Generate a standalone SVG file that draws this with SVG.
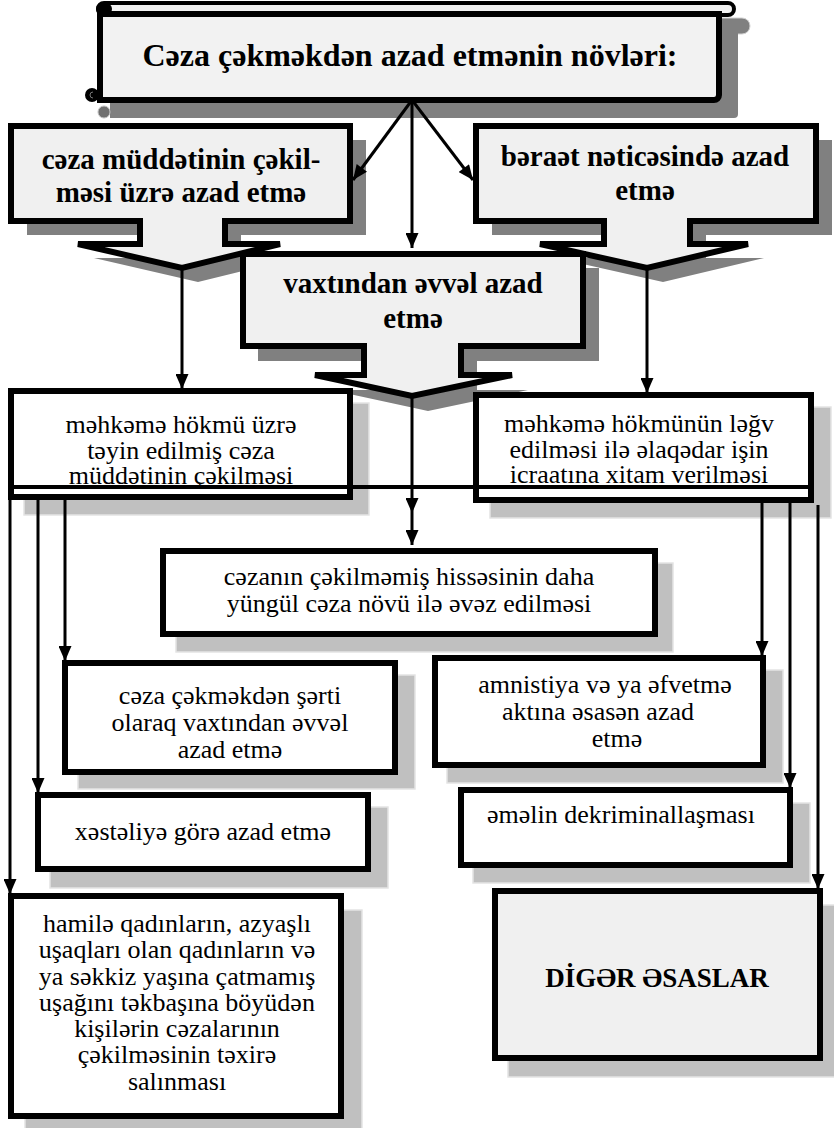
<svg xmlns="http://www.w3.org/2000/svg" width="834" height="1128" viewBox="0 0 834 1128">
<style>
.bt{font-family:"Liberation Serif","DejaVu Serif",serif;font-weight:bold;fill:#000;text-anchor:middle}
.rt{font-family:"Liberation Serif","DejaVu Serif",serif;font-size:26px;fill:#000;text-anchor:middle}
.dsh{fill:#808080}
.lsh{fill:#c0c0c0;stroke:#e4e4e4;stroke-width:1.5}
.cal{fill:#f0f0f0;stroke:#000;stroke-width:6;stroke-linejoin:miter}
.box{fill:#fff;stroke:#000;stroke-width:6}
.gbox{fill:#f0f0f0;stroke:#000;stroke-width:6}
.con{stroke:#000;stroke-width:3;fill:none}
</style>
<defs>
<marker id="ah" viewBox="0 0 15 13" refX="15" refY="6.5" markerWidth="16" markerHeight="13" markerUnits="userSpaceOnUse" orient="auto">
<path d="M0,0 L15,6.5 L0,13 Z" fill="#000"/>
</marker>
</defs>

<g id="title">
<rect x="110" y="18" width="640" height="16" rx="8" fill="#808080" stroke="#d0d0d0" stroke-width="1"/>
<path d="M110,30 H738 V114 a4,4 0 0 1 -4,4 H110 Z" class="dsh"/>
<circle cx="104" cy="112" r="6" fill="#707070" stroke="#c0c0c0" stroke-width="1"/>
<rect x="98" y="3" width="636" height="12" rx="6" fill="#f2f2f2" stroke="#000" stroke-width="4"/>
<path d="M100,14 H719 V95 a5,5 0 0 1 -5,5 H100 Z" fill="#f2f2f2" stroke="#000" stroke-width="6"/>
<rect x="96" y="3" width="16" height="12" rx="6" fill="#000"/>
<circle cx="92" cy="95" r="7" fill="#000"/>
<path d="M93,92 a3,3 0 0 0 0,6" stroke="#777" stroke-width="1" fill="none"/>
<text x="410" y="66" class="bt" font-size="32">Cəza çəkməkdən azad etmənin növləri:</text>
</g>

<g id="callout-left">
<path d="M27,140 H366 V235 H241 V258 H296 L198,282 L94,258 H156 V235 H27 Z" class="dsh"/>
<path d="M11,126 H350 V221 H225 V244 H280 L182,268 L78,244 H140 V221 H11 Z" class="cal"/>
<text x="181" y="169" class="bt" font-size="29">cəza müddətinin çəkil-</text>
<text x="181" y="202" class="bt" font-size="29">məsi üzrə azad etmə</text>
</g>

<g id="callout-right">
<path d="M492,140 H832 V235 H706 V258 H764 L663,282 L556,258 H620 V235 H492 Z" class="dsh"/>
<path d="M476,126 H816 V221 H690 V244 H748 L647,268 L540,244 H604 V221 H476 Z" class="cal"/>
<text x="645" y="166" class="bt" font-size="29">bəraət nəticəsində azad</text>
<text x="645" y="200" class="bt" font-size="29">etmə</text>
</g>

<g id="callout-center">
<path d="M258,268 H599 V361 H477 V390 H528 L428,411 L331,390 H380 V361 H258 Z" class="dsh"/>
<path d="M243,254 H583 V346 H461 V375 H512 L412,396 L315,375 H364 V346 H243 Z" class="cal"/>
<text x="413" y="293" class="bt" font-size="29">vaxtından əvvəl azad</text>
<text x="413" y="328" class="bt" font-size="29">etmə</text>
</g>

<g id="box-hokmu">
<rect x="24" y="403" width="345" height="112" class="lsh"/>
<rect x="11" y="391" width="339" height="106" class="box"/>
<text x="181" y="433" class="rt">məhkəmə hökmü üzrə</text>
<text x="181" y="459" class="rt">təyin edilmiş cəza</text>
<text x="181" y="484" class="rt">müddətinin çəkilməsi</text>
</g>

<g id="box-legv">
<rect x="490" y="407" width="341" height="111" class="lsh"/>
<rect x="476" y="395" width="335" height="105" class="box"/>
<text x="639" y="432" class="rt">məhkəmə hökmünün ləğv</text>
<text x="639" y="458" class="rt">edilməsi ilə əlaqədar işin</text>
<text x="639" y="483" class="rt">icraatına xitam verilməsi</text>
</g>

<g id="box-yungul">
<rect x="176" y="563" width="497" height="89" class="lsh"/>
<rect x="163" y="551" width="492" height="83" class="box"/>
<text x="409" y="585" class="rt">cəzanın çəkilməmiş hissəsinin daha</text>
<text x="409" y="612" class="rt">yüngül cəza növü ilə əvəz edilməsi</text>
</g>

<g id="box-serti">
<rect x="78" y="675" width="337" height="114" class="lsh"/>
<rect x="65" y="663" width="330" height="109" class="box"/>
<text x="230" y="704" class="rt">cəza çəkməkdən şərti</text>
<text x="230" y="731" class="rt">olaraq vaxtından əvvəl</text>
<text x="230" y="758" class="rt">azad etmə</text>
</g>

<g id="box-xestelik">
<rect x="50" y="807" width="338" height="81" class="lsh"/>
<rect x="38" y="795" width="330" height="74" class="box"/>
<text x="203" y="840" class="rt">xəstəliyə görə azad etmə</text>
</g>

<g id="box-hamile">
<rect x="25" y="910" width="337" height="225" class="lsh"/>
<rect x="11" y="896" width="330" height="220" class="box"/>
<text x="177" y="932" class="rt">hamilə qadınların, azyaşlı</text>
<text x="177" y="958" class="rt">uşaqları olan qadınların və</text>
<text x="177" y="985" class="rt">ya səkkiz yaşına çatmamış</text>
<text x="177" y="1011" class="rt">uşağını təkbaşına böyüdən</text>
<text x="177" y="1037" class="rt">kişilərin cəzalarının</text>
<text x="177" y="1063" class="rt">çəkilməsinin təxirə</text>
<text x="177" y="1090" class="rt">salınması</text>
</g>

<g id="box-amnistiya">
<rect x="447" y="670" width="336" height="113" class="lsh"/>
<rect x="435" y="658" width="328" height="107" class="box"/>
<text x="605" y="693" class="rt">amnistiya və ya əfvetmə</text>
<text x="598" y="720" class="rt">aktına əsasən azad</text>
<text x="617" y="747" class="rt">etmə</text>
</g>

<g id="box-dekrim">
<rect x="473" y="803" width="337" height="80" class="lsh"/>
<rect x="461" y="790" width="329" height="75" class="box"/>
<text x="621" y="823" class="rt">əməlin dekriminallaşması</text>
</g>

<g id="box-diger">
<rect x="508" y="905" width="332" height="172" class="lsh"/>
<rect x="495" y="891" width="325" height="167" class="gbox"/>
<text x="657" y="987" class="bt" font-size="27">DİGƏR ƏSASLAR</text>
</g>

<g id="connectors">
<line x1="412" y1="100" x2="353" y2="180" class="con" marker-end="url(#ah)"/>
<line x1="412" y1="100" x2="412" y2="248" class="con" marker-end="url(#ah)"/>
<line x1="412" y1="100" x2="473" y2="180" class="con" marker-end="url(#ah)"/>
<line x1="182" y1="268" x2="182" y2="389" class="con" marker-end="url(#ah)"/>
<line x1="647" y1="268" x2="647" y2="393" class="con" marker-end="url(#ah)"/>
<line x1="412" y1="396" x2="412" y2="513" class="con" marker-end="url(#ah)"/>
<line x1="412" y1="513" x2="412" y2="545" class="con" marker-end="url(#ah)"/>
<line x1="11" y1="487" x2="813" y2="487" stroke="#000" stroke-width="4"/>
<line x1="10" y1="500" x2="10" y2="894" class="con" marker-end="url(#ah)"/>
<line x1="38" y1="500" x2="38" y2="793" class="con" marker-end="url(#ah)"/>
<line x1="65" y1="500" x2="65" y2="661" class="con" marker-end="url(#ah)"/>
<line x1="762" y1="503" x2="762" y2="656" class="con" marker-end="url(#ah)"/>
<line x1="790" y1="503" x2="790" y2="788" class="con" marker-end="url(#ah)"/>
<line x1="818" y1="505" x2="818" y2="889" class="con" marker-end="url(#ah)"/>
</g>
</svg>
